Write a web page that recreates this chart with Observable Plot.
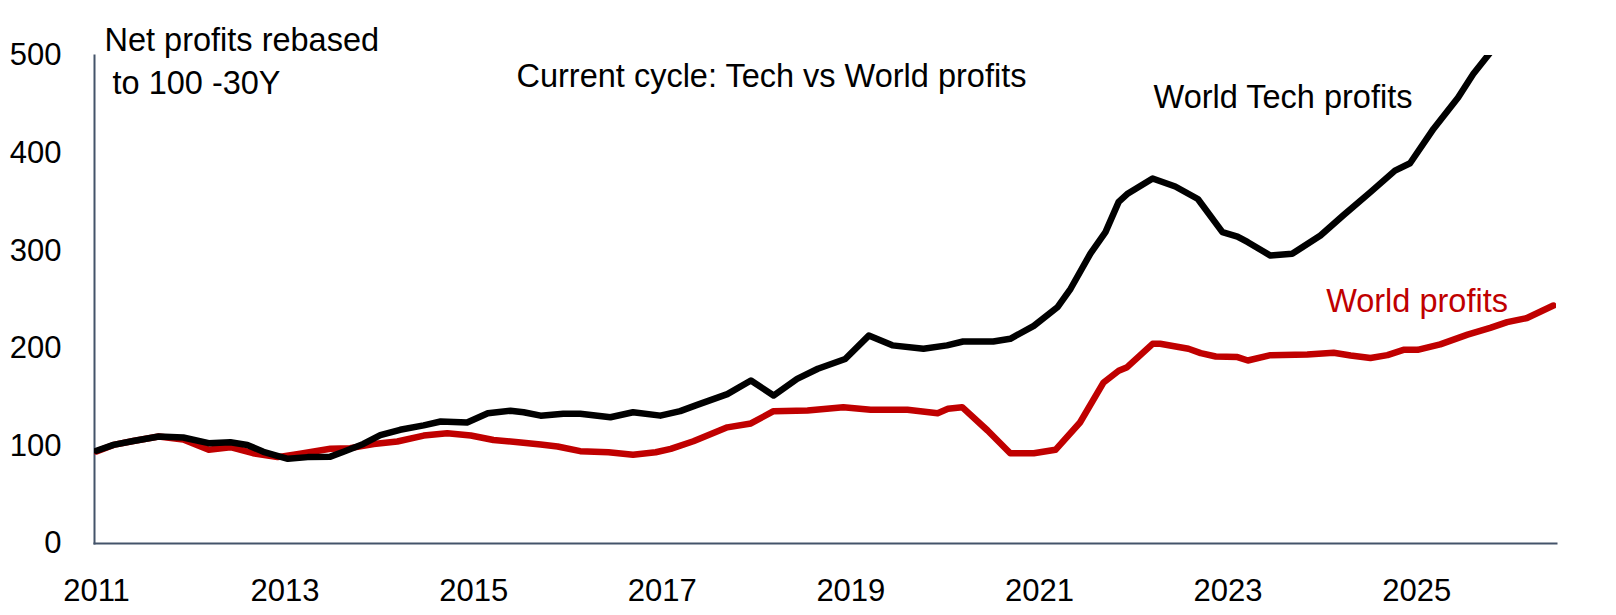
<!DOCTYPE html>
<html><head><meta charset="utf-8">
<script src="https://cdn.jsdelivr.net/npm/d3@7"></script>
<script src="https://cdn.jsdelivr.net/npm/@observablehq/plot@0.6"></script>
<style>html,body{margin:0;padding:0;background:#fff}</style>
</head><body><div id="chart"></div>
<script>
// World Tech profits (rebased)
const techYears = [2011.0,2011.18,2011.39,2011.66,2011.92,2012.19,2012.42,2012.60,2012.77,2013.03,2013.24,2013.48,2013.62,2013.83,2014.01,2014.22,2014.47,2014.65,2014.93,2015.15,2015.39,2015.53,2015.71,2015.95,2016.13,2016.45,2016.69,2016.98,2017.19,2017.37,2017.69,2017.94,2018.18,2018.43,2018.65,2018.94,2019.19,2019.44,2019.77,2020.02,2020.19,2020.51,2020.69,2020.94,2021.19,2021.33,2021.54,2021.70,2021.84,2021.93,2022.20,2022.44,2022.68,2022.94,2023.10,2023.21,2023.45,2023.68,2023.98,2024.22,2024.51,2024.77,2024.93,2025.18,2025.44,2025.60,2025.78];
const techValues = [95,101,105,109.6,108.6,102.8,103.8,101,94,86.8,88.5,89,94,102,111,116.5,121,125,124,133.5,136,134.5,131,133,133,129.4,134.5,131,135.6,142,153,167,151.6,168.7,179,189,213,203,199.5,203,207,207,209.7,223,242,261,297,319,350,358,374,365.8,353,319,314.5,308.7,295,296.8,315.6,336,360,382,389.6,425,457,481,503];
// World profits (rebased)
const worldYears = [2011.0,2011.18,2011.39,2011.66,2011.92,2012.19,2012.42,2012.66,2012.92,2013.16,2013.48,2013.69,2013.94,2014.19,2014.47,2014.72,2014.97,2015.21,2015.50,2015.71,2015.89,2016.13,2016.43,2016.69,2016.93,2017.09,2017.33,2017.69,2017.94,2018.18,2018.54,2018.92,2019.21,2019.60,2019.92,2020.03,2020.18,2020.45,2020.69,2020.94,2021.17,2021.43,2021.68,2021.84,2021.93,2022.20,2022.28,2022.58,2022.71,2022.87,2023.10,2023.21,2023.45,2023.84,2024.12,2024.30,2024.51,2024.69,2024.86,2025.01,2025.25,2025.54,2025.78,2025.96,2026.17,2026.45];
const worldValues = [94.3,101,105,109.6,106.5,96,98.7,92.5,88.5,92,97,97.7,102,104.5,110.6,113,110.6,106,103.5,101.4,99.4,94.6,93.5,91,93.5,97,104.8,119,123,135.6,136.3,139.7,137,137,133.5,138,139.7,115.8,92.5,92.5,96,124,165,177,180.7,204.6,204.6,199.5,195,191.6,191,187.5,193,193.6,195.4,192.6,190,193,198.4,198.4,204,214,221,226.8,231,243.8];

const xTicks = [2011,2013,2015,2017,2019,2021,2023,2025];
const yTicks = [0,100,200,300,400,500];
const xDomain = [2010.979, 2026.483];
const yDomain = [0, 500];

// annotation texts (anchored in data space: year, value at baseline)
const annoText = ["Net profits rebased", "to 100 -30Y", "Current cycle: Tech vs World profits", "World Tech profits", "World profits"];
const annoYear = [2011.085, 2011.17, 2015.454, 2022.21, 2024.04];
const annoValue = [505, 461, 468, 446.7, 236.7];
const annoColor = ["#000", "#000", "#000", "#000", "#C00000"];

const tech = techYears.map((t, i) => ({t, v: techValues[i]}));
const world = worldYears.map((t, i) => ({t, v: worldValues[i]}));
const anno = annoText.map((s, i) => ({s, t: annoYear[i], v: annoValue[i], c: annoColor[i]}));

const FONT = "'Liberation Sans', Arial, sans-serif";
const chart = Plot.plot({
  width: 1616,
  height: 615,
  marginLeft: 94,
  marginRight: 60,
  marginTop: 55,
  marginBottom: 72,
  style: {fontFamily: FONT, fontSize: "31px", color: "#000", background: "#fff", overflow: "visible"},
  x: {domain: xDomain},
  y: {domain: yDomain},
  marks: [
    Plot.axisY({ticks: yTicks, tickSize: 0, tickPadding: 33, label: null, fontSize: 31}),
    Plot.axisX({ticks: xTicks, tickSize: 0, tickPadding: 35, label: null, tickFormat: d => String(d), fontSize: 31}),
    Plot.frame({anchor: "left", stroke: "#44546A", strokeWidth: 2}),
    Plot.frame({anchor: "bottom", stroke: "#44546A", strokeWidth: 2}),
    Plot.line(world, {x: "t", y: "v", stroke: "#C00000", strokeWidth: 6.5, strokeLinejoin: "round", strokeLinecap: "round", clip: true}),
    Plot.line(tech, {x: "t", y: "v", stroke: "#000", strokeWidth: 6.5, strokeLinejoin: "round", strokeLinecap: "round", clip: true}),
    Plot.text(anno, {x: "t", y: "v", text: "s", fill: "c", textAnchor: "start", lineAnchor: "bottom", fontSize: 32.5})
  ]
});
document.getElementById("chart").appendChild(chart);
</script>
</body></html>
